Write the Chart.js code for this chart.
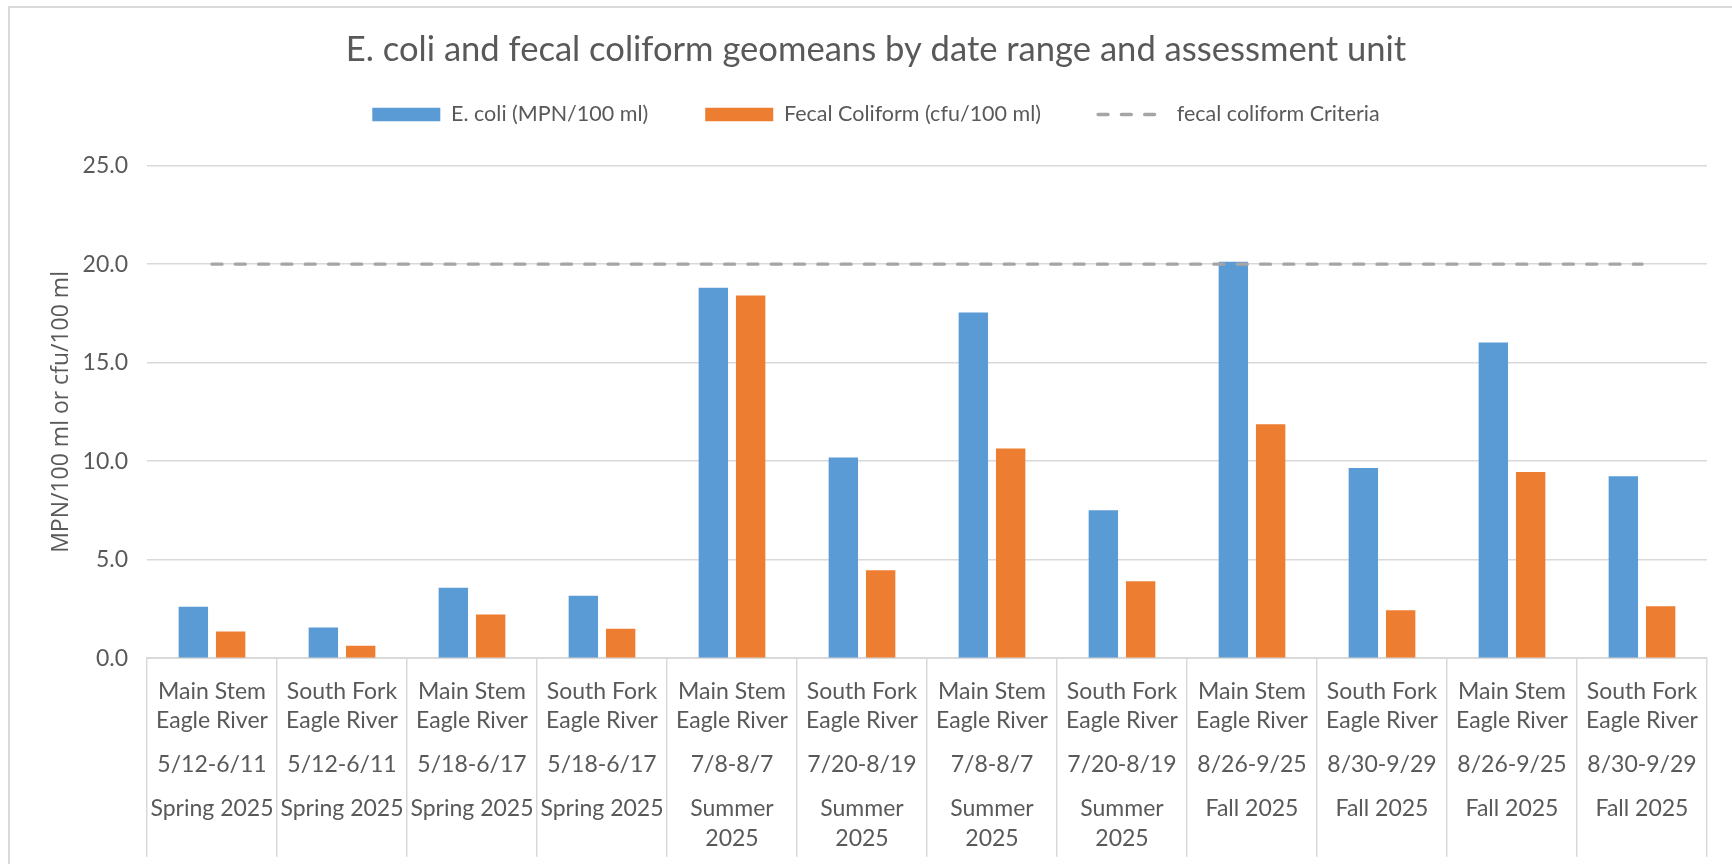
<!DOCTYPE html>
<html>
<head>
<meta charset="utf-8">
<script src="https://cdn.jsdelivr.net/npm/chart.js@4.4.1/dist/chart.umd.min.js"></script>
<style>
html,body{margin:0;padding:0;background:#fff;overflow:hidden;}
#wrap{position:relative;width:1732px;height:864px;}
#c{position:absolute;left:0;top:0;}
#frame{position:absolute;left:8px;top:6px;width:1800px;height:900px;border-left:2px solid #d9d9d9;border-top:2px solid #d9d9d9;pointer-events:none;}
</style>
</head>
<body>
<div id="wrap"><canvas id="c" width="1732" height="864"></canvas><div id="frame"></div></div>
<script>
// ---- data ----
const assessmentUnits = [
  ["Main Stem","Eagle River"],["South Fork","Eagle River"],
  ["Main Stem","Eagle River"],["South Fork","Eagle River"],
  ["Main Stem","Eagle River"],["South Fork","Eagle River"],
  ["Main Stem","Eagle River"],["South Fork","Eagle River"],
  ["Main Stem","Eagle River"],["South Fork","Eagle River"],
  ["Main Stem","Eagle River"],["South Fork","Eagle River"]
];
const dateRanges = ["5/12-6/11","5/12-6/11","5/18-6/17","5/18-6/17","7/8-8/7","7/20-8/19",
                    "7/8-8/7","7/20-8/19","8/26-9/25","8/30-9/29","8/26-9/25","8/30-9/29"];
const seasons = [["Spring 2025"],["Spring 2025"],["Spring 2025"],["Spring 2025"],
                 ["Summer","2025"],["Summer","2025"],["Summer","2025"],["Summer","2025"],
                 ["Fall 2025"],["Fall 2025"],["Fall 2025"],["Fall 2025"]];
const ecoliValues = [2.61,1.56,3.57,3.17,18.80,10.19,17.55,7.51,20.13,9.66,16.03,9.24];
const fecalValues = [1.35,0.63,2.22,1.50,18.41,4.46,10.64,3.90,11.88,2.43,9.45,2.64];
const criteriaValues = [20,20,20,20,20,20,20,20,20,20,20,20];
const yTickValues = [0,5,10,15,20,25];

const seriesNames = ["E. coli (MPN/100 ml)","Fecal Coliform (cfu/100 ml)","fecal coliform Criteria"];
const chartTitle = "E. coli and fecal coliform geomeans by date range and assessment unit";
const yAxisTitle = "MPN/100 ml or cfu/100 ml";

// multi-line category labels (blank lines give Excel-like spacing)
const categoryLabels = assessmentUnits.map((u, i) => {
  const lines = [u[0], "", u[1], "", "", dateRanges[i], "", ""];
  seasons[i].forEach((s, k) => { if (k > 0) lines.push(""); lines.push(s); });
  return lines;
});

const TXT = '#595959';
const GRID = '#d9d9d9';
const FONT = "Lato, 'Open Sans', sans-serif";

const LPAD = 45;
const plotLeft = 147, plotTop = 166.2, plotBottom = 658.2;

new Chart(document.getElementById('c'), {
  type: 'bar',
  data: {
    labels: categoryLabels,
    datasets: [
      { type: 'bar', label: seriesNames[0], data: ecoliValues, backgroundColor: '#5B9BD5',
        borderWidth: 0, categoryPercentage: 0.574, barPercentage: 0.788, pointStyle: 'rect',
        order: 2, xAxisID: 'x', yAxisID: 'y' },
      { type: 'bar', label: seriesNames[1], data: fecalValues, backgroundColor: '#ED7D31',
        borderWidth: 0, categoryPercentage: 0.574, barPercentage: 0.788, pointStyle: 'rect',
        order: 2, xAxisID: 'x', yAxisID: 'y' },
      { type: 'line', label: seriesNames[2], data: criteriaValues, borderColor: '#A5A5A5',
        backgroundColor: '#A5A5A5', borderWidth: 3.3, borderDash: [10, 13.3], borderCapStyle: 'round',
        pointRadius: 0, pointHoverRadius: 0, pointStyle: 'line', fill: false, tension: 0,
        order: 1, xAxisID: 'x', yAxisID: 'y' }
    ]
  },
  options: {
    responsive: false,
    animation: false,
    devicePixelRatio: 1,
    layout: { padding: { left: LPAD, right: 25, top: 0, bottom: 0 } },
    plugins: {
      tooltip: { enabled: false },
      title: {
        display: true, text: chartTitle, color: TXT,
        font: { family: FONT, size: 34.6, weight: 'normal', lineHeight: 1.2 },
        padding: { top: 29.2, bottom: -23.95 }
      },
      legend: {
        display: true, position: 'top',
        labels: {
          color: TXT, font: { family: FONT, size: 21.5 },
          usePointStyle: true, pointStyleWidth: 68, boxHeight: 13.4, boxWidth: 68,
          padding: 57,
          sort: (a, b) => a.datasetIndex - b.datasetIndex,
          generateLabels: (chart) => {
            const items = Chart.defaults.plugins.legend.labels.generateLabels(chart);
            items.forEach(it => {
              const ds = chart.data.datasets[it.datasetIndex];
              if (ds.type === 'line') {
                it.lineDash = ds.borderDash;
                it.lineWidth = ds.borderWidth;
                it.lineCap = ds.borderCapStyle;
                it.strokeStyle = ds.borderColor;
              }
            });
            return items;
          }
        }
      }
    },
    scales: {
      x: {
        type: 'category', position: 'bottom', offset: true,
        grid: { display: true, offset: true, drawOnChartArea: false, drawTicks: true,
                tickLength: 198.5, color: GRID, lineWidth: 1.5 },
        border: { display: true, color: GRID, width: 2 },
        ticks: { color: TXT, font: { family: FONT, size: 23, lineHeight: 0.6375 },
                 padding: -172.35, autoSkip: false, maxRotation: 0, minRotation: 0 },
        afterFit: (s) => { s.height = 864 - plotBottom; }
      },
      spacer: {
        type: 'linear', position: 'top', min: 0, max: 1,
        grid: { display: false }, border: { display: false }, ticks: { display: false },
        afterFit: (s) => { s.height = 30.45; }
      },
      y: {
        type: 'linear', position: 'left', min: 0, max: 25,
        afterBuildTicks: (s) => { s.ticks = yTickValues.map(v => ({ value: v })); },
        grid: { color: GRID, lineWidth: 1.5, drawTicks: false },
        border: { display: false },
        ticks: { color: TXT, font: { family: FONT, size: 23 }, padding: 19,
                 callback: (v) => Number(v).toFixed(1) },
        title: { display: true, text: yAxisTitle, color: TXT,
                 font: { family: "'Open Sans', sans-serif", size: 23, lineHeight: 1.2 },
                 padding: { top: 3, bottom: 0 } },
        afterFit: (s) => { s.width = plotLeft - LPAD; }
      }
    }
  }
});
</script>
</body>
</html>
